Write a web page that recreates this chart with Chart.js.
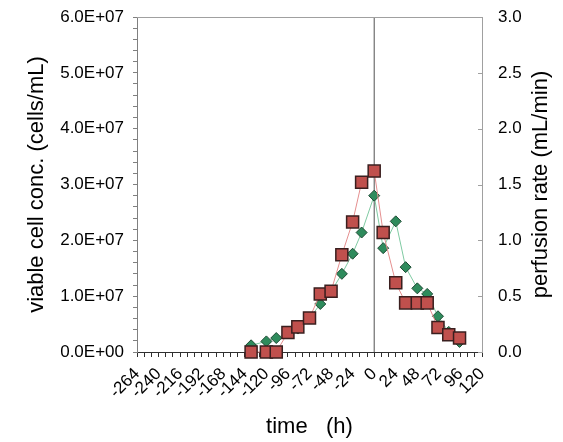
<!DOCTYPE html>
<html>
<head>
<meta charset="utf-8">
<script src="https://cdn.jsdelivr.net/npm/chart.js@4"></script>
<style>
    html, body { margin: 0; padding: 0; background: #fff; }
    #graph { display: block; }
</style>
</head>
<body>
<canvas id="graph" width="563" height="442"></canvas>
<script>
// time points (h)
const timeH = [-137, -120, -109, -96, -85, -72, -60, -48, -36, -24, -14, 0, 10, 24, 35, 48, 59, 71, 83, 95];
// viable cell conc. (cells/mL) - red squares, left axis
const cellConc = [0, 0, 0, 3.5e6, 4.5e6, 6.1e6, 1.04e7, 1.09e7, 1.74e7, 2.33e7, 3.04e7, 3.24e7,
    2.14e7, 1.24e7, 8.8e6, 8.8e6, 8.8e6, 4.4e6, 3.1e6, 2.5e6];
// perfusion rate (mL/min) - green diamonds, right axis
const perfusionRate = [0.06, 0.095, 0.125, 0.17, 0.21, 0.30, 0.43, 0.54, 0.70, 0.88, 1.07, 1.40,
    0.93, 1.17, 0.76, 0.57, 0.52, 0.32, 0.18, 0.09];
// vertical marker at t = 0
const markerX = [0, 0];
const markerY = [0, 6e7];

const xTickStep = 24;
const fontName = '"Liberation Sans", Arial, sans-serif';

function toPoints(xs, ys) {
    return xs.map((x, i) => ({ x: x, y: ys[i] }));
}

// cadre gris, petits tirets internes de l'axe de droite, titre de droite
const framePlugin = {
    id: 'frame',
    afterDraw(chart) {
        const ctx = chart.ctx;
        const a = chart.chartArea;
        const y2 = chart.scales.y2;
        ctx.save();
        ctx.strokeStyle = '#a0a0a0';
        ctx.lineWidth = 1;
        ctx.beginPath();
        ctx.moveTo(a.left, a.top + 0.5);
        ctx.lineTo(a.right, a.top + 0.5);
        y2.ticks.forEach((t) => {
            const py = Math.round(y2.getPixelForValue(t.value)) + 0.5;
            ctx.moveTo(a.right - 4, py);
            ctx.lineTo(a.right, py);
        });
        ctx.stroke();

        ctx.translate(541, (a.top + a.bottom) / 2);
        ctx.rotate(-Math.PI / 2);
        ctx.fillStyle = '#000';
        ctx.font = '22px ' + fontName;
        ctx.textAlign = 'center';
        ctx.textBaseline = 'middle';
        ctx.fillText('perfusion rate (mL/min)', 0, 0);
        ctx.restore();
    }
};

const chart = new Chart(document.getElementById('graph').getContext('2d'), {
    type: 'line',
    data: {
        datasets: [{
            label: 'viable cell conc.',
            data: toPoints(timeH, cellConc),
            yAxisID: 'y',
            borderColor: '#e58f8f',
            borderWidth: 1,
            backgroundColor: '#c0504d',
            pointBackgroundColor: '#c0504d',
            pointBorderColor: '#3a1f1f',
            pointBorderWidth: 1.5,
            pointStyle: 'rect',
            pointRadius: 8.5,
            tension: 0,
            clip: false,
            order: 1
        }, {
            label: 'perfusion rate',
            data: toPoints(timeH, perfusionRate),
            yAxisID: 'y2',
            borderColor: '#7fcaa2',
            borderWidth: 1,
            backgroundColor: '#2e8b5c',
            pointBackgroundColor: '#2e8b5c',
            pointBorderColor: '#1d4a33',
            pointBorderWidth: 1,
            pointStyle: 'rectRot',
            pointRadius: 5.5,
            tension: 0,
            clip: false,
            order: 2
        }, {
            label: 't0',
            data: toPoints(markerX, markerY),
            yAxisID: 'y',
            borderColor: '#505050',
            borderWidth: 1,
            pointRadius: 0,
            clip: false,
            order: 3
        }]
    },
    options: {
        responsive: false,
        animation: false,
        events: [],
        layout: { padding: { top: 17, left: 0, right: 0, bottom: 0 } },
        plugins: {
            legend: { display: false },
            tooltip: { enabled: false }
        },
        scales: {
            x: {
                type: 'linear',
                min: -264,
                max: 120,
                afterFit: (scale) => {
                    scale.height = 90;
                    scale.paddingLeft = 0;
                    scale.paddingRight = 0;
                },
                border: { color: '#303030' },
                grid: { drawOnChartArea: false, tickLength: 5, color: '#303030' },
                ticks: {
                    stepSize: 8,
                    autoSkip: false,
                    minRotation: 45,
                    maxRotation: 45,
                    padding: 7,
                    color: '#000',
                    font: { family: fontName, size: 17 },
                    callback: (v) => (v % xTickStep === 0 ? String(v) : '')
                },
                title: {
                    display: true,
                    text: 'time   (h)',
                    color: '#000',
                    font: { family: fontName, size: 22 },
                    padding: { top: 0, bottom: 2 }
                }
            },
            y: {
                position: 'left',
                min: 0,
                max: 6e7,
                afterFit: (scale) => {
                    scale.width = 137;
                    scale.paddingTop = 0;
                    scale.paddingBottom = 0;
                },
                border: { color: '#808080' },
                grid: { drawOnChartArea: false, tickLength: 4, color: '#808080' },
                ticks: {
                    stepSize: 2e6,
                    autoSkip: false,
                    padding: 9,
                    color: '#000',
                    font: { family: fontName, size: 17 },
                    callback: (v) => {
                        if (Math.round(v) % 1e7 !== 0) return '';
                        const n = Math.round(v / 1e7);
                        return n === 0 ? '0.0E+00' : n.toFixed(1) + 'E+07';
                    }
                },
                title: {
                    display: true,
                    text: 'viable cell conc. (cells/mL)',
                    color: '#000',
                    font: { family: fontName, size: 22 },
                    padding: { top: 24, bottom: 0 }
                }
            },
            y2: {
                position: 'right',
                min: 0,
                max: 3,
                afterFit: (scale) => {
                    scale.width = 81;
                    scale.paddingTop = 0;
                    scale.paddingBottom = 0;
                },
                border: { color: '#a0a0a0' },
                grid: { drawOnChartArea: false, tickLength: 13, color: 'rgba(0,0,0,0)' },
                ticks: {
                    stepSize: 0.5,
                    autoSkip: false,
                    padding: 3,
                    color: '#000',
                    font: { family: fontName, size: 17 },
                    callback: (v) => v.toFixed(1)
                }
            }
        }
    },
    plugins: [framePlugin]
});
</script>
</body>
</html>
